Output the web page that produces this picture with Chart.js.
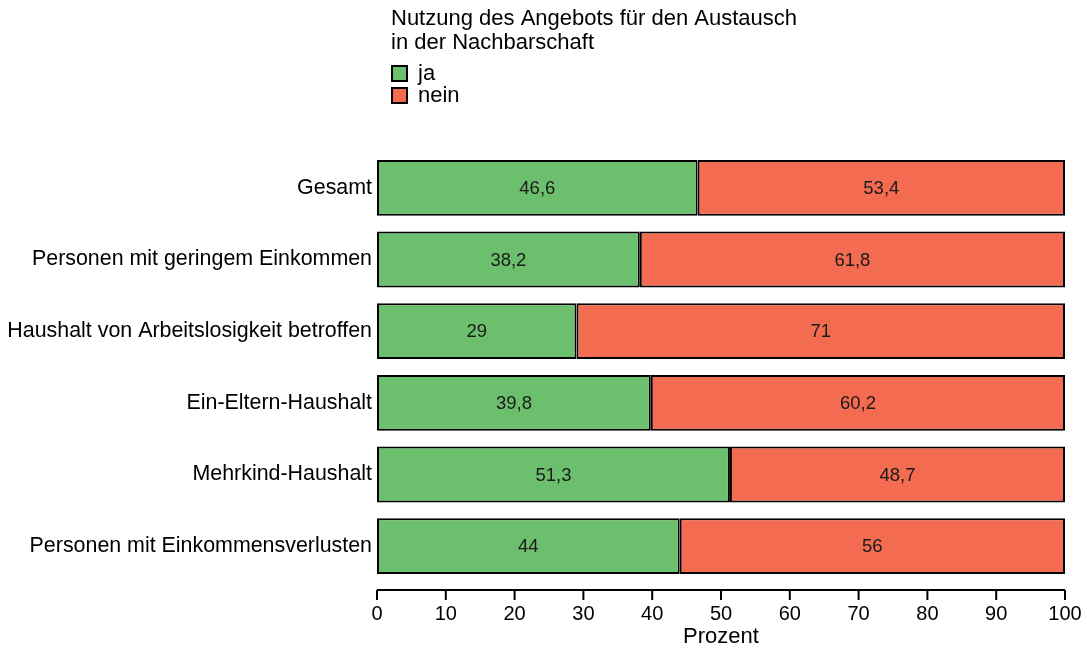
<!DOCTYPE html>
<html>
<head>
<meta charset="utf-8">
<script src="https://cdn.jsdelivr.net/npm/chart.js@4"></script>
<style>
  html, body { margin: 0; padding: 0; background: #fff; }
  #wrap { width: 1087px; height: 650px; }
</style>
</head>
<body>
<div id="wrap"><canvas id="myChart"></canvas></div>
<script>
// daten
const kategorien = [
  "Gesamt",
  "Personen mit geringem Einkommen",
  "Haushalt von Arbeitslosigkeit betroffen",
  "Ein-Eltern-Haushalt",
  "Mehrkind-Haushalt",
  "Personen mit Einkommensverlusten"
];
const werteJa   = [46.6, 38.2, 29, 39.8, 51.3, 44];
const werteNein = [53.4, 61.8, 71, 60.2, 48.7, 56];
const xTicks = [0, 10, 20, 30, 40, 50, 60, 70, 80, 90, 100];
const titelZeilen = ["Nutzung des Angebots für den Austausch", "in der Nachbarschaft"];

const FONT = "'Liberation Sans', Arial, sans-serif";
const farbeJa = "#6cbf6c";
const farbeNein = "#f36b51";

// titel + legende oben, werte in den balken, x-achse mit abstand
const extras = {
  id: "extras",
  afterDatasetsDraw(chart) {
    const ctx = chart.ctx;
    ctx.save();
    // werte
    ctx.font = "18.5px " + FONT;
    ctx.fillStyle = "#1a1a1a";
    ctx.textAlign = "center";
    ctx.textBaseline = "middle";
    chart.data.datasets.forEach((ds, i) => {
      chart.getDatasetMeta(i).data.forEach((bar, j) => {
        const p = bar.getProps(["x", "y", "base"], true);
        const txt = String(ds.data[j]).replace(".", ",");
        ctx.fillText(txt, (p.x + p.base) / 2, p.y + 1);
      });
    });
    // x-achse
    const xs = chart.scales.x;
    const yLine = chart.chartArea.bottom + 8;
    ctx.strokeStyle = "#000";
    ctx.lineWidth = 2;
    ctx.beginPath();
    ctx.moveTo(xs.getPixelForValue(0), yLine);
    ctx.lineTo(xs.getPixelForValue(100), yLine);
    xTicks.forEach(t => {
      const px = xs.getPixelForValue(t);
      ctx.moveTo(px, yLine);
      ctx.lineTo(px, yLine + 10);
    });
    ctx.stroke();
    // titel
    ctx.textAlign = "left";
    ctx.textBaseline = "middle";
    ctx.font = "22px " + FONT;
    ctx.fillStyle = "#000";
    ctx.fillText(titelZeilen[0], 391, 19);
    ctx.fillText(titelZeilen[1], 391, 43);
    // legende
    chart.data.datasets.forEach((ds, i) => {
      const y = 66 + i * 22;
      ctx.fillStyle = ds.backgroundColor;
      ctx.fillRect(392, y, 15, 15);
      ctx.lineWidth = 2;
      ctx.strokeStyle = "#000";
      ctx.strokeRect(392, y, 15, 15);
      ctx.fillStyle = "#000";
      ctx.fillText(ds.label, 418, y + 8);
    });
    ctx.restore();
  }
};

const ctx = document.getElementById("myChart").getContext("2d");
const myChart = new Chart(ctx, {
  type: "bar",
  data: {
    labels: kategorien,
    datasets: [
      {
        label: "ja",
        data: werteJa,
        backgroundColor: farbeJa,
        borderColor: "#000",
        borderWidth: 2,
        borderSkipped: false
      },
      {
        label: "nein",
        data: werteNein,
        backgroundColor: farbeNein,
        borderColor: "#000",
        borderWidth: 2,
        borderSkipped: false
      }
    ]
  },
  options: {
    indexAxis: "y",
    responsive: true,
    maintainAspectRatio: false,
    animation: false,
    datasets: {
      bar: { categoryPercentage: 1.0, barPercentage: 0.78 }
    },
    layout: { padding: { top: 152, right: 22, left: 0, bottom: 0 } },
    plugins: {
      legend: { display: false },
      title: { display: false },
      tooltip: { enabled: false }
    },
    scales: {
      x: {
        stacked: true,
        min: 0,
        max: 100,
        afterBuildTicks: (s) => { s.ticks = xTicks.map(v => ({ value: v })); },
        afterFit: (s) => { s.height = 68; s.paddingLeft = 0; s.paddingRight = 0; },
        grid: { display: false, drawTicks: false },
        border: { display: false },
        ticks: {
          padding: 20,
          color: "#000",
          font: { family: FONT, size: 20 }
        },
        title: {
          display: true,
          text: "Prozent",
          color: "#000",
          font: { family: FONT, size: 22 },
          padding: { top: 0, bottom: 0 }
        }
      },
      y: {
        stacked: true,
        afterFit: (s) => { s.width = 377; },
        grid: { display: false, drawTicks: false },
        border: { display: false },
        ticks: {
          padding: 5,
          color: "#000",
          font: { family: FONT, size: 21.4 }
        }
      }
    }
  },
  plugins: [extras]
});
</script>
</body>
</html>
